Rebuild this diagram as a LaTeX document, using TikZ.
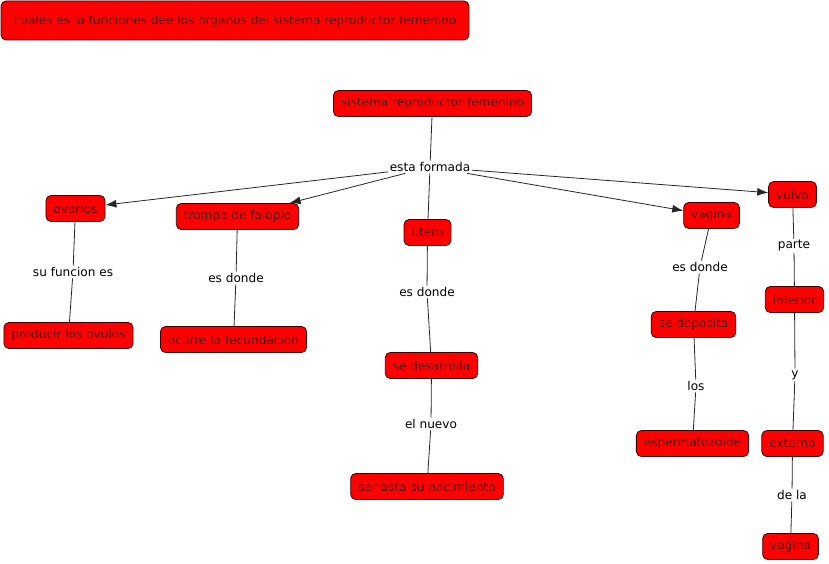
\documentclass[tikz,border=0pt]{standalone}
\usepackage{fontspec}
\setmainfont{DejaVu Sans}
\usetikzlibrary{arrows.meta}
\definecolor{boxred}{RGB}{255,0,0}
\definecolor{boxtext}{RGB}{80,0,0}
\definecolor{boxline}{RGB}{60,0,0}
\tikzset{
  concept/.style={
    rectangle,
    rounded corners=5pt,
    fill=boxred,
    draw=boxline,
    line width=0.8pt,
    text=boxtext,
    inner xsep=7.5pt,
    inner ysep=0pt,
    minimum height=26pt,
    font=\fontsize{12.1}{14}\selectfont
  },
  linklabel/.style={
    inner sep=1.5pt,
    text=black,
    font=\fontsize{12.1}{14}\selectfont
  },
  link/.style={line width=0.8pt, draw=black!85},
  link-arrow/.style={link, -{Latex[length=11pt,width=8pt]}}
}
\begin{document}
\begin{tikzpicture}[x=1pt,y=-1pt]
  \useasboundingbox (0,0) rectangle (829,564);
  % Question box
  \node[concept, minimum width=468pt, minimum height=39pt] (pregunta) at (235,20.5)
    {cuales es la funciones dee los órganos del sistema reproductor femenino};
  % Main concept
  \node[concept] (sistema) at (432.5,103.5) {sistema reproductor femenino};
  \node[linklabel] (formada) at (430,167) {esta formada};
  % Organs
  \node[concept] (ovarios) at (75.5,208.5) {ovarios};
  \node[concept] (trompa) at (237.5,216.5) {trompa de falopio};
  \node[concept] (utero) at (427.5,232.5) {utero};
  \node[concept] (vagina) at (711.5,215.5) {vagina};
  \node[concept] (vulva) at (792.5,194.5) {vulva};
  % Ovarios branch
  \node[linklabel] (sufuncion) at (73,272) {su funcion es};
  \node[concept] (ovulos) at (68.5,335.5) {producir los ovulos};
  % Trompa branch
  \node[linklabel] (esdonde-t) at (236,278) {es donde};
  \node[concept] (fecundacion) at (233.5,339.5) {ocurre la fecundacion};
  % Utero branch
  \node[linklabel] (esdonde-u) at (427,292) {es donde};
  \node[concept] (desarrolla) at (431.5,365.5) {se desarrolla};
  \node[linklabel] (nuevo) at (431,424) {el nuevo};
  \node[concept] (nacimiento) at (427,486.5) {ser asta su nacimiento};
  % Vagina branch
  \node[linklabel] (esdonde-v) at (700,267) {es donde};
  \node[concept] (deposita) at (693.5,324.5) {se deposita};
  \node[linklabel] (los) at (696,386) {los};
  \node[concept] (esperma) at (692.5,443.5) {espermatozoide};
  % Vulva branch
  \node[linklabel] (parte) at (794,246) {parte};
  \node[concept] (inferior) at (794.5,299.5) {inferior};
  \node[linklabel] (y) at (795,375) {y};
  \node[concept] (externo) at (792.5,443.5) {externo};
  \node[linklabel] (dela) at (792,495) {de la};
  \node[concept] (vagina2) at (790.5,546.5) {vagina};
  % Connectors
  \draw[link] (sistema) -- (formada);
  \draw[link-arrow] (formada) -- (ovarios);
  \draw[link-arrow] (formada) -- (trompa);
  \draw[link] (formada) -- (utero);
  \draw[link-arrow] (formada) -- (vagina);
  \draw[link-arrow] (formada) -- (vulva);
  \draw[link] (ovarios) -- (sufuncion);
  \draw[link] (sufuncion) -- (ovulos);
  \draw[link] (trompa) -- (esdonde-t);
  \draw[link] (esdonde-t) -- (fecundacion);
  \draw[link] (utero) -- (esdonde-u);
  \draw[link] (esdonde-u) -- (desarrolla);
  \draw[link] (desarrolla) -- (nuevo);
  \draw[link] (nuevo) -- (nacimiento);
  \draw[link] (vagina) -- (esdonde-v);
  \draw[link] (esdonde-v) -- (deposita);
  \draw[link] (deposita) -- (los);
  \draw[link] (los) -- (esperma);
  \draw[link] (vulva) -- (parte);
  \draw[link] (parte) -- (inferior);
  \draw[link] (inferior) -- (y);
  \draw[link] (y) -- (externo);
  \draw[link] (externo) -- (dela);
  \draw[link] (dela) -- (vagina2);
\end{tikzpicture}
\end{document}
